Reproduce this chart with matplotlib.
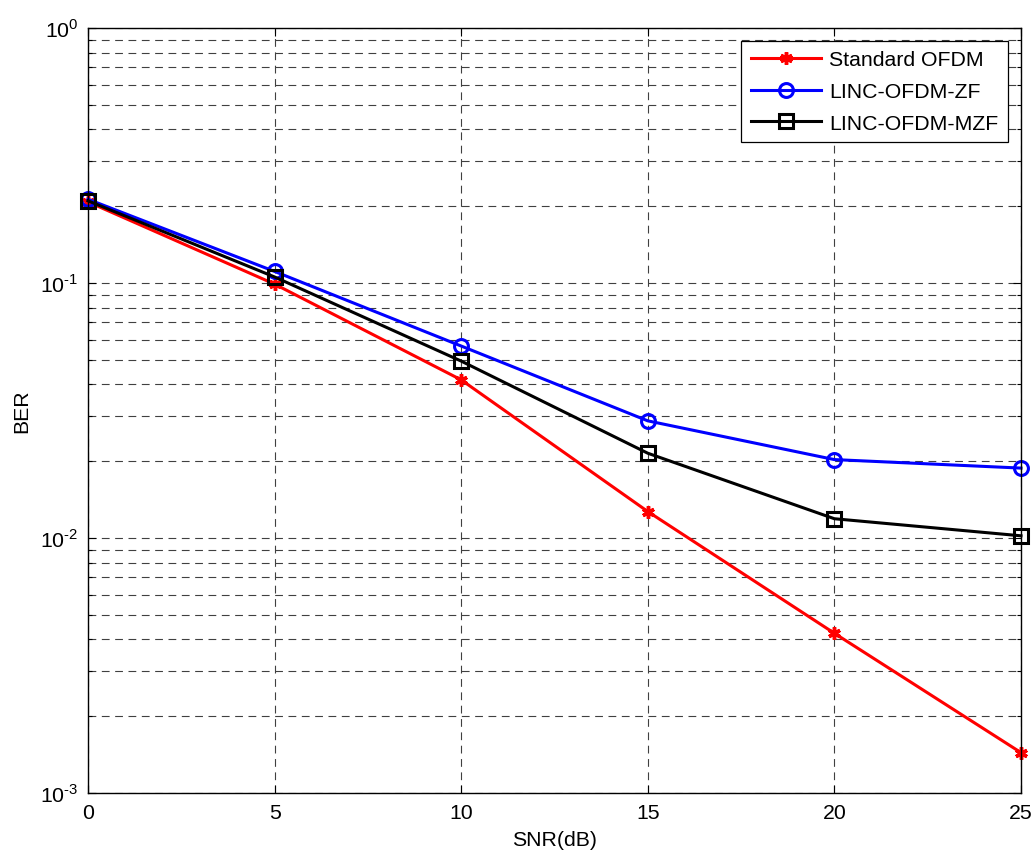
import matplotlib
matplotlib.use("Agg")
import matplotlib.pyplot as plt
from matplotlib.ticker import LogLocator, FixedLocator, NullFormatter, FuncFormatter
import math

plt.rcParams['font.family'] = ['Liberation Sans', 'DejaVu Sans']
plt.rcParams['mathtext.fontset'] = 'custom'
plt.rcParams['mathtext.rm'] = 'Liberation Sans'

snr = [0, 5, 10, 15, 20, 25]
ber_std = [0.208, 0.099, 0.0417, 0.0127, 0.00423, 0.00144]
ber_zf = [0.213, 0.111, 0.0566, 0.0288, 0.0203, 0.0188]
ber_mzf = [0.210, 0.1056, 0.0494, 0.0215, 0.0119, 0.0102]
labels = ['Standard OFDM', 'LINC-OFDM-ZF', 'LINC-OFDM-MZF']

FS = 15.3

fig = plt.figure(figsize=(10.34, 8.54), dpi=100)
ax = fig.add_axes([88/1034, 1-794/854, (1021-88)/1034, (794-29)/854])

ax.semilogy(snr, ber_std, color='red', lw=2.2, marker=(6, 2, 0), ms=9, mew=2.5,
            label=labels[0], clip_on=False, zorder=5)
ax.semilogy(snr, ber_zf, color='blue', lw=2.2, marker='o', ms=10, mew=2.2,
            mfc='none', label=labels[1], clip_on=False, zorder=5)
ax.semilogy(snr, ber_mzf, color='black', lw=2.2, marker='s', ms=10, mew=2.2,
            mfc='none', label=labels[2], clip_on=False, zorder=5)

ax.set_xlim(0, 25)
ax.set_ylim(1e-3, 1)
ax.xaxis.set_major_locator(FixedLocator(snr))
ax.yaxis.set_major_locator(LogLocator(base=10, numticks=10))
ax.yaxis.set_minor_locator(LogLocator(base=10, subs=range(2, 10), numticks=20))
ax.yaxis.set_minor_formatter(NullFormatter())


def fmt(v, pos):
    e = int(round(math.log10(v)))
    if e < 0:
        return r'$10^{\text{-}%d}$' % (-e)
    return r'$10^{%d}$' % e


ax.yaxis.set_major_formatter(FuncFormatter(fmt))

gkw = dict(color='0.25', linestyle=(0, (7, 5)), linewidth=0.8)
ax.grid(True, which='major', axis='both', **gkw)
ax.grid(True, which='minor', axis='y', **gkw)

ax.tick_params(which='both', direction='in', top=True, right=True, labelsize=FS,
               width=0.8)
ax.tick_params(which='major', length=6, pad=7)
ax.tick_params(which='minor', length=3)
for s in ax.spines.values():
    s.set_linewidth(1.0)
    s.set_zorder(6)

ax.set_xlabel('SNR(dB)', fontsize=FS, labelpad=6)
ax.set_ylabel('BER', fontsize=FS, labelpad=6)

leg = ax.legend(loc='upper right', fontsize=FS, fancybox=False, framealpha=1,
                edgecolor='black', handlelength=3.3, handletextpad=0.4,
                borderaxespad=0.6, borderpad=0.45, labelspacing=0.6)
leg.get_frame().set_linewidth(0.9)
leg.set_zorder(10)

fig.savefig('out.png', dpi=100)
